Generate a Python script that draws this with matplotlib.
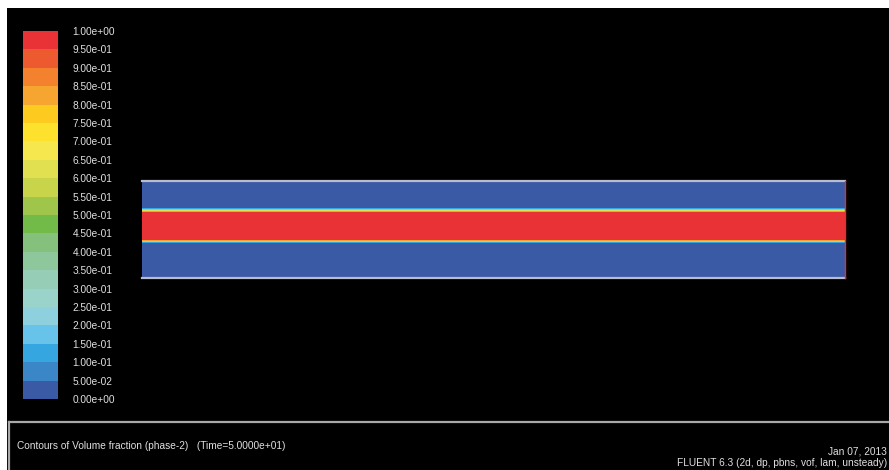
import numpy as np
import matplotlib
matplotlib.use("Agg")
import matplotlib.pyplot as plt
from matplotlib.colors import ListedColormap, BoundaryNorm
from matplotlib.colorbar import ColorbarBase
from matplotlib.ticker import FormatStrFormatter
from matplotlib.patches import Rectangle
from matplotlib.lines import Line2D

plt.rcParams['font.family'] = ['Liberation Sans', 'DejaVu Sans']

# Contour levels for the volume fraction of phase 2 (20 bands, 0 -> 1)
levels = np.linspace(0.0, 1.0, 21)
band_colors = [
    "#3a5aa6", "#3a86c6", "#35a6e0", "#67c3ea", "#8ed0de",
    "#9ad3ca", "#96cdb7", "#8ec79c", "#86c07d", "#72bb48",
    "#9fc64a", "#c8d54a", "#e0e050", "#f7e74f", "#fde12c",
    "#fdcb1f", "#f6a531", "#f3812e", "#ee5a2f", "#e93235",
]

# Layered profile across the channel height (normalised 0 = bottom wall, 1 = top wall)
layer_edges = [0.00, 0.36, 0.37, 0.38, 0.39, 0.68, 0.69, 0.70, 0.71, 0.72, 1.00]
layer_fraction = [0.00, 0.15, 0.55, 0.82, 1.00, 0.85, 0.62, 0.35, 0.12, 0.00]
channel_length = [0.0, 1.0]

title_text = "Contours of Volume fraction (phase-2)   (Time=5.0000e+01)"
date_text = "Jan 07, 2013"
solver_text = "FLUENT 6.3 (2d, dp, pbns, vof, lam, unsteady)"

W, H = 889, 470
fig = plt.figure(figsize=(W / 100, H / 100), dpi=100)
fig.patch.set_facecolor("white")


def fx(px):
    return px / W


def fy(py):
    return 1 - py / H


# black graphics window
fig.add_artist(Rectangle((fx(7), 0), 1 - fx(7), fy(8), transform=fig.transFigure,
                         facecolor="black", edgecolor="none", zorder=0))

cmap = ListedColormap(band_colors)
norm = BoundaryNorm(levels, cmap.N)

# channel contour
ax = fig.add_axes([fx(142), fy(278), fx(845 - 142), (278 - 181) / H])
X, Y = np.meshgrid(channel_length, layer_edges)
Z = np.array(layer_fraction)[:, None]
ax.pcolormesh(X, Y, Z, cmap=cmap, norm=norm, shading="flat")
ax.set_xlim(0, 1)
ax.set_ylim(0, 1)
ax.axis("off")
ax.axhline(1.0, color="#b8bccc", lw=1.6, clip_on=False)
ax.axhline(0.0, color="#b8bccc", lw=1.6, clip_on=False)
ax.axvline(1.0, color="#e03030", lw=1.0, clip_on=False)

# colour scale
txt_kw = dict(color="#e0e0e0", fontsize=7.3)
cax = fig.add_axes([fx(23), fy(399), fx(35), (399 - 31) / H])
cb = ColorbarBase(cax, cmap=cmap, norm=norm, ticks=levels, orientation="vertical")
cb.outline.set_visible(False)
cb.ax.yaxis.set_major_formatter(FormatStrFormatter("%.2e"))
cb.ax.tick_params(length=0, pad=10.5, labelsize=7.3, colors="#e0e0e0")

# caption panel
fig.add_artist(Line2D([fx(9), 1.0], [fy(422), fy(422)], transform=fig.transFigure,
                      color="#a8a8a8", lw=1.6))
fig.add_artist(Line2D([fx(9), fx(9)], [fy(422), 0.0], transform=fig.transFigure,
                      color="#a8a8a8", lw=1.6))
fig.text(fx(17), fy(446), title_text, ha="left", va="center", **txt_kw)
fig.text(fx(887), fy(452), date_text, ha="right", va="center", **txt_kw)
fig.text(fx(887), fy(463), solver_text, ha="right", va="center", **txt_kw)

fig.savefig("out.png", dpi=100, facecolor=fig.get_facecolor())
